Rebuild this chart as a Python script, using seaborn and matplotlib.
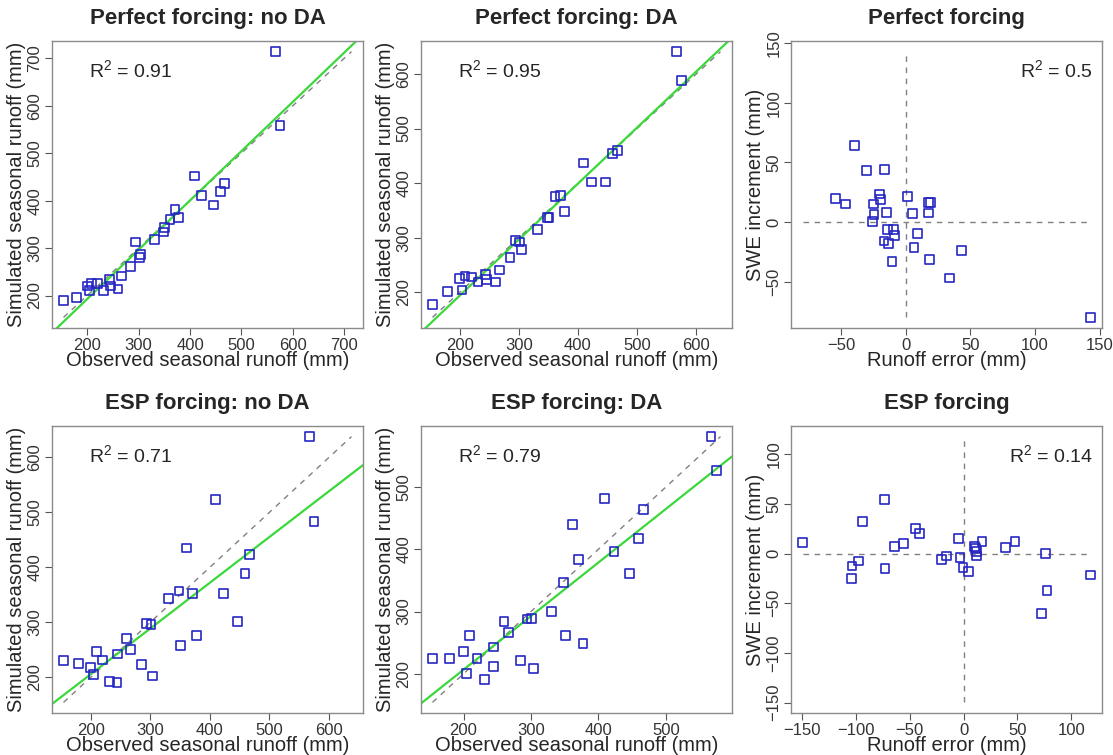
import numpy as np
import matplotlib
matplotlib.use("Agg")
import matplotlib.pyplot as plt
import seaborn as sns
from matplotlib.ticker import MultipleLocator

# observed seasonal runoff (mm), same years in every runoff panel
obs = [154, 179, 200, 204, 209, 220, 231, 244, 245, 260, 267, 285, 294, 301,
       304, 331, 348, 351, 361, 371, 377, 409, 423, 446, 459, 467, 567, 575]

sim_perf_noda = [189, 196, 220, 210, 226, 226, 210, 234, 220, 214, 241, 261, 313, 280,
                 286, 318, 334, 343, 361, 381, 364, 452, 411, 391, 420, 436, 714, 559]
sim_perf_da = [177, 201, 225, 204, 230, 228, 219, 232, 224, 219, 241, 264, 295, 292,
               278, 315, 337, 337, 375, 377, 348, 437, 402, 402, 454, 460, 641, 588]
sim_esp_noda = [230, 225, 217, 205, 247, 231, 192, 190, 242, 271, 251, 223, 298, 296,
                202, 343, 357, 257, 435, 352, 276, 523, 353, 301, 389, 423, 638, 484]
sim_esp_da = [225, 225, 236, 200, 261, 225, 191, 212, 243, 284, 266, 221, 288, 289,
              208, 300, 346, 261, 440, 384, 248, 481, 397, 361, 417, 464, 581, 527]

# runoff error vs SWE increment
err_perf = [-54.7, -46.5, -39.9, -30.7, -25.3, -24.6, -25.6, -20.2, -19.4, -16.4,
            -15.1, -14.1, -16.9, -13.3, -9.5, -8.7, -10.7, 1.0, 5.4, 6.4,
            9.0, 17.4, 17.6, 18.9, 18.2, 34.0, 43.0, 143.0]
swe_perf = [19.7, 15.2, 64.3, 43.5, 15.2, 6.2, 0.3, 23.6, 18.8, 44.4,
            7.9, -6.5, -16.0, -17.7, -6.5, -11.2, -32.9, 21.6, 7.0, -21.6,
            -9.6, 7.6, 16.3, 16.3, -31.2, -46.9, -24.2, -80.0]
err_esp = [-149.7, -104.0, -103.7, -97.8, -93.8, -73.5, -73.1, -64.2, -55.9, -45.0,
           -40.7, -20.4, -16.0, -4.9, -3.4, -0.6, 4.9, 9.9, 10.8, 12.0,
           12.3, 17.0, 38.6, 47.8, 75.9, 72.5, 77.5, 117.9]
swe_esp = [11.0, -24.9, -12.3, -7.4, 32.7, 54.4, -14.6, 7.1, 10.0, 25.2,
           20.7, -5.5, -2.3, 15.5, -3.6, -14.2, -17.8, 7.1, 5.2, 2.3,
           -2.3, 12.6, 6.5, 12.6, 0.6, -59.9, -36.9, -21.4]

runoff_titles = ["Perfect forcing: no DA", "Perfect forcing: DA",
                 "ESP forcing: no DA", "ESP forcing: DA"]
runoff_r2 = ["0.91", "0.95", "0.71", "0.79"]
err_titles = ["Perfect forcing", "ESP forcing"]
err_r2 = ["0.5", "0.14"]

sns.set_style("ticks")
plt.rcParams['font.family'] = ['Liberation Sans', 'DejaVu Sans']
plt.rcParams['mathtext.default'] = 'regular'

W, H = 1113, 755
fig = plt.figure(figsize=(W / 100, H / 100), dpi=100)

col_left = [52, 421, 791]
row_top = [41, 426]
aw, ah = 311, 287


def make_ax(col, row):
    return fig.add_axes([col_left[col] / W, 1 - (row_top[row] + ah) / H, aw / W, ah / H])


blue = '#2626c4'
green = '#3ad83a'
dgray = '#808080'


def style(ax, title, xlabel, ylabel, step):
    ax.set_title(title, fontsize=16, fontweight='bold', pad=12)
    ax.set_xlabel(xlabel, fontsize=14.5, labelpad=-1)
    ax.set_ylabel(ylabel, fontsize=14.5, labelpad=1)
    ax.xaxis.set_major_locator(MultipleLocator(step))
    ax.yaxis.set_major_locator(MultipleLocator(step))
    ax.tick_params(direction='out', length=5, width=0.8, color='#555555',
                   labelsize=12, labelcolor='#333333', pad=2)
    ax.tick_params(axis='y', labelrotation=90)
    for lab in ax.get_yticklabels():
        lab.set_va('center')
    for sp in ax.spines.values():
        sp.set_visible(True)
        sp.set_color('#8a8a8a')
        sp.set_linewidth(1.0)


def scatter(ax, x, y):
    sns.scatterplot(x=x, y=y, ax=ax, marker='s', s=40, facecolor='none',
                    edgecolor=blue, linewidth=1.2, zorder=3)


runoff_sets = [(0, 0, sim_perf_noda), (1, 0, sim_perf_da),
               (0, 1, sim_esp_noda), (1, 1, sim_esp_da)]
for i, (c, r, sim) in enumerate(runoff_sets):
    ax = make_ax(c, r)
    lo = min(min(obs), min(sim))
    hi = max(max(obs), max(sim))
    pad = 0.04 * (hi - lo)
    ax.set_xlim(lo - pad, hi + pad)
    ax.set_ylim(lo - pad, hi + pad)
    ax.plot([lo, hi], [lo, hi], ls=(0, (4, 4)), color=dgray, lw=1.0, zorder=1)
    sns.regplot(x=np.array(obs, float), y=np.array(sim, float), ax=ax, scatter=False,
                ci=None, truncate=False, color=green, line_kws=dict(lw=1.6, zorder=2))
    scatter(ax, obs, sim)
    ax.set_xlim(lo - pad, hi + pad)
    ax.set_ylim(lo - pad, hi + pad)
    ax.text(0.12, 0.9, "R$^2$ = " + runoff_r2[i], transform=ax.transAxes,
            fontsize=14, ha='left', va='center')
    style(ax, runoff_titles[i], "Observed seasonal runoff (mm)",
          "Simulated seasonal runoff (mm)", 100)

for r, (err, swe) in enumerate([(err_perf, swe_perf), (err_esp, swe_esp)]):
    ax = make_ax(2, r)
    lo = min(min(err), min(swe))
    hi = max(max(err), max(swe))
    pad = 0.04 * (hi - lo)
    ax.set_xlim(lo - pad, hi + pad)
    ax.set_ylim(lo - pad, hi + pad)
    ax.plot([lo, hi], [0, 0], ls=(0, (4, 4)), color=dgray, lw=1.0, zorder=1)
    ax.plot([0, 0], [lo, hi], ls=(0, (4, 4)), color=dgray, lw=1.0, zorder=1)
    scatter(ax, err, swe)
    ax.text(0.97, 0.9, "R$^2$ = " + err_r2[r], transform=ax.transAxes,
            fontsize=14, ha='right', va='center')
    style(ax, err_titles[r], "Runoff error (mm)", "SWE increment (mm)", 50)

fig.savefig("out.png", dpi=100)
